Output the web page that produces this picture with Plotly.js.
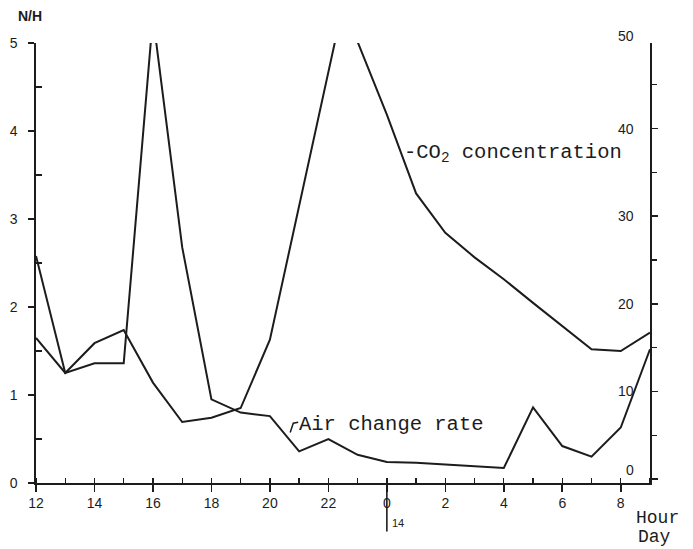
<!DOCTYPE html>
<html>
<head>
<meta charset="utf-8">
<script src="https://cdn.plot.ly/plotly-3.0.1.min.js"></script>
<style>html,body{margin:0;padding:0;background:#fff;}#chart{width:693px;height:549px;}</style>
</head>
<body>
<div id="chart"></div>
<script>
// Hours as a continuous time scale (24 = midnight, 33 = 9 h next day)
const hours = [12,13,14,15,16,17,18,19,20,21,22,22.5,23,24,25,26,27,28,29,30,31,32,33];
const airHours = [12,13,14,15,16,17,18,19,20,21,22,23,24,25,26,27,28,29,30,31,32,33];
// Air change rate, N/H (left axis)
const airChangeRate = [2.58,1.25,1.36,1.36,5.3,2.68,0.95,0.8,0.76,0.36,0.5,0.32,0.24,0.23,0.21,0.19,0.17,0.86,0.42,0.3,0.63,1.52];
// CO2 concentration (right axis)
const co2 = [16.1,12.1,15.5,17.0,11.0,6.5,7.0,8.1,15.9,31.1,46.3,54.1,49.9,41.6,32.6,28.1,25.3,22.8,20.1,17.5,14.8,14.6,16.7];
// Tick labels
const xTickVals = [12,14,16,18,20,22,24,26,28,30,32];
const xTickText = ['12','14','16','18','20','22','0','2','4','6','8'];
const leftTicks = [0,1,2,3,4,5];
const rightTicks = [0,10,20,30,40,50];

const ink = '#1c1c1c';
const tickFont = {family: 'Liberation Sans, Arial, sans-serif', size: 14, color: ink};
const mono = 'Liberation Mono, Courier New, monospace';

const traces = [
  {x: airHours, y: airChangeRate, type: 'scatter', mode: 'lines', name: 'Air change rate',
   line: {color: ink, width: 2}, yaxis: 'y'},
  {x: hours, y: co2, type: 'scatter', mode: 'lines', name: 'CO2 concentration',
   line: {color: ink, width: 2}, yaxis: 'y2'}
];

// Right-axis labels sit inside the frame, left of the axis line
const rightLabels = rightTicks.map(v => ({
  text: String(v), xref: 'paper', yref: 'y2', x: 0.978, y: Math.min(v, 49.5),
  xanchor: 'right', yanchor: 'middle', showarrow: false,
  yshift: v === 0 ? 9 : (v === 50 ? 9 : 0),
  font: tickFont
}));

const layout = {
  width: 693, height: 549,
  margin: {l: 36, r: 43, t: 43, b: 66},
  paper_bgcolor: '#fff', plot_bgcolor: '#fff',
  showlegend: false,
  xaxis: {
    range: [12, 33], tickmode: 'array', tickvals: xTickVals, ticktext: xTickText,
    showgrid: false, zeroline: false, showline: true, linecolor: ink, linewidth: 1.6,
    ticks: 'outside', ticklen: 7, tickwidth: 1.6, tickcolor: ink,
    minor: {tickmode: 'linear', tick0: 12, dtick: 1, ticks: 'inside', ticklen: 5, tickwidth: 1.3, tickcolor: ink},
    tickfont: tickFont
  },
  yaxis: {
    range: [0, 5], tickmode: 'array', tickvals: leftTicks,
    showgrid: false, zeroline: false, showline: true, linecolor: ink, linewidth: 1.6,
    ticks: 'outside', ticklen: 6, tickwidth: 1.6, tickcolor: ink, ticklabelstandoff: 8,
    minor: {tickmode: 'linear', tick0: 0.5, dtick: 1, ticks: 'inside', ticklen: 6, tickwidth: 1.3, tickcolor: ink},
    tickfont: tickFont
  },
  yaxis2: {
    overlaying: 'y', side: 'right', range: [-0.46, 49.77], tickmode: 'array', tickvals: rightTicks,
    showgrid: false, zeroline: false, showline: true, linecolor: ink, linewidth: 1.6,
    ticks: 'outside', ticklen: 6, tickwidth: 1.6, tickcolor: ink, showticklabels: false,
    minor: {tickmode: 'linear', tick0: 5, dtick: 10, ticks: 'outside', ticklen: 5, tickwidth: 1.3, tickcolor: ink}
  },
  annotations: [
    {text: '<b>N/H</b>', xref: 'paper', yref: 'paper', x: -0.01, y: 1.062, xanchor: 'center', yanchor: 'middle',
     showarrow: false, font: {family: 'Liberation Sans, Arial, sans-serif', size: 14, color: ink}},
    {text: '-CO<sub>2</sub> concentration', xref: 'paper', yref: 'paper', x: 0.596, y: 0.748,
     xanchor: 'left', yanchor: 'middle', showarrow: false, font: {family: mono, size: 20.5, color: ink}},
    {text: 'Air change rate', xref: 'paper', yref: 'paper', x: 0.425, y: 0.132,
     xanchor: 'left', yanchor: 'middle', showarrow: false, font: {family: mono, size: 20.5, color: ink}},
    {text: 'Hour', xref: 'paper', yref: 'paper', x: 1.012, y: -0.08, xanchor: 'center', yanchor: 'middle',
     showarrow: false, font: {family: mono, size: 18, color: ink}},
    {text: 'Day', xref: 'paper', yref: 'paper', x: 1.008, y: -0.123, xanchor: 'center', yanchor: 'middle',
     showarrow: false, font: {family: mono, size: 18, color: ink}},
    {text: '14', xref: 'paper', yref: 'paper', x: 0.59, y: -0.091, xanchor: 'center', yanchor: 'middle',
     showarrow: false, font: {family: 'Liberation Sans, Arial, sans-serif', size: 11, color: ink}}
  ].concat(rightLabels),
  shapes: [
    {type: 'line', xref: 'x', yref: 'paper', x0: 24, x1: 24, y0: 0, y1: -0.11,
     line: {color: ink, width: 1.6}},
    {type: 'path', xref: 'paper', yref: 'paper',
     path: 'M 0.414 0.115 L 0.419 0.136 L 0.427 0.138',
     line: {color: ink, width: 1.5}}
  ]
};

Plotly.newPlot('chart', traces, layout, {displayModeBar: false, staticPlot: true});
</script>
</body>
</html>
